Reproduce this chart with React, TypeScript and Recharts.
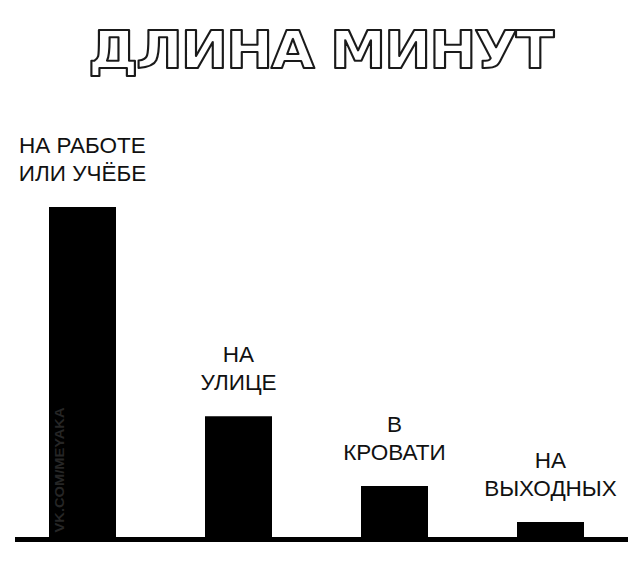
import { BarChart, Bar, XAxis, YAxis, LabelList, ReferenceLine } from "recharts";

const PLACES = ["НА РАБОТЕ|ИЛИ УЧЁБЕ", "НА|УЛИЦЕ", "В|КРОВАТИ", "НА|ВЫХОДНЫХ"];
const LENGTHS = [100, 37.1, 16.1, 5.3];
const TITLE = "ДЛИНА МИНУТ";
const WATERMARK = "VK.COM/MEYAKA";

const data = PLACES.map((place, i) => ({ place, length: LENGTHS[i] }));

function TwoLineLabel(props: any) {
  const { x, y, width, value } = props;
  const lines = String(value).split("|");
  const cx = x + width / 2;
  return (
    <text
      textAnchor="middle"
      fontFamily="'Liberation Sans', Arial, sans-serif"
      fontSize={22.5}
      fill="#111"
    >
      {lines.map((line, i) => (
        <tspan key={i} x={cx} y={y - 26 - (lines.length - 1 - i) * 28}>
          {line}
        </tspan>
      ))}
    </text>
  );
}

function Baseline(props: any) {
  const { x1, x2, y1 } = props;
  return <line x1={x1 + 11} x2={x2} y1={y1} y2={y1} stroke="#000" strokeWidth={5} />;
}

export default function App() {
  return (
    <div style={{ position: "absolute", left: 0, top: 0, width: 640, height: 569, background: "#fff" }}>
      <BarChart
        width={640}
        height={569}
        data={data}
        margin={{ top: 207, right: 12, bottom: 29.5, left: 4 }}
      >
        <XAxis dataKey="place" hide />
        <YAxis domain={[0, 100]} hide />
        <Bar dataKey="length" fill="#000" barSize={67} isAnimationActive={false}>
          <LabelList dataKey="place" content={<TwoLineLabel />} />
        </Bar>
        <ReferenceLine y={0} shape={<Baseline />} />
      </BarChart>
      <svg
        width={640}
        height={569}
        style={{ position: "absolute", left: 0, top: 0, pointerEvents: "none" }}
      >
        <text
          x={320}
          y={68}
          textAnchor="middle"
          fontFamily="'DejaVu Sans', sans-serif"
          fontWeight="bold"
          fontSize={52}
          letterSpacing={-2}
          fill="#fff"
          stroke="#1a1a1a"
          strokeWidth={2}
          strokeLinejoin="round"
          textLength={464}
          lengthAdjust="spacingAndGlyphs"
        >
          {TITLE}
        </text>
        <text
          transform="translate(64, 470) rotate(-90)"
          textAnchor="middle"
          fontFamily="'Liberation Sans', Arial, sans-serif"
          fontWeight="bold"
          fontSize={13}
          fill="#262626"
          textLength={125}
          lengthAdjust="spacingAndGlyphs"
        >
          {WATERMARK}
        </text>
      </svg>
    </div>
  );
}
